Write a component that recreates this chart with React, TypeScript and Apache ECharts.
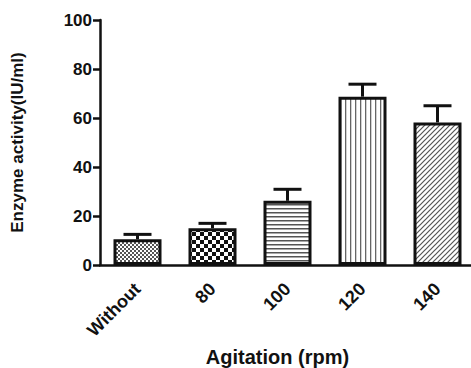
import React, { useEffect, useRef } from "react";
import * as echarts from "echarts";

const categories = ["Without", "80", "100", "120", "140"];
const activity = [10.5, 15.0, 26.2, 68.7, 58.2];
const errors = [2.0, 2.0, 4.7, 5.1, 6.8];
const yMin = 0;
const yMax = 100;
const yInterval = 20;

const FONT = "Arial, 'Liberation Sans', Helvetica, sans-serif";
const INK = "#111";

function tile(w: number, h: number, draw: (ctx: CanvasRenderingContext2D) => void) {
  const c = document.createElement("canvas");
  c.width = w;
  c.height = h;
  const ctx = c.getContext("2d")!;
  ctx.fillStyle = "#fff";
  ctx.fillRect(0, 0, w, h);
  draw(ctx);
  return { image: c.toDataURL(), repeat: "repeat", imageWidth: w, imageHeight: h };
}

function makePatterns() {
  const fine = tile(4, 4, (ctx) => {
    ctx.fillStyle = "#555";
    ctx.fillRect(0, 0, 2, 2);
    ctx.fillRect(2, 2, 2, 2);
  });
  const checker = tile(8, 8, (ctx) => {
    ctx.fillStyle = "#111";
    ctx.fillRect(0, 0, 4, 4);
    ctx.fillRect(4, 4, 4, 4);
  });
  const horiz = tile(4, 4, (ctx) => {
    ctx.fillStyle = "#555";
    ctx.fillRect(0, 0, 4, 1.5);
  });
  const vert = tile(5, 5, (ctx) => {
    ctx.fillStyle = "#666";
    ctx.fillRect(0, 0, 1.3, 5);
  });
  const diag = tile(5, 5, (ctx) => {
    ctx.strokeStyle = "#555";
    ctx.lineWidth = 1.2;
    ctx.beginPath();
    ctx.moveTo(-1, 6);
    ctx.lineTo(6, -1);
    ctx.moveTo(-3, 3);
    ctx.lineTo(3, -3);
    ctx.moveTo(2, 8);
    ctx.lineTo(8, 2);
    ctx.stroke();
  });
  return [fine, checker, horiz, vert, diag];
}

export default function App() {
  const ref = useRef<HTMLDivElement>(null);
  useEffect(() => {
    if (!ref.current) return;
    const chart = echarts.init(ref.current, null, { renderer: "svg" });
    const patterns = makePatterns();
    const option: any = {
      animation: false,
      backgroundColor: "#fff",
      grid: { left: 100, top: 20, right: -4, bottom: 103, outerBoundsMode: "none", containLabel: false },
      xAxis: {
        type: "category",
        data: categories,
        name: "Agitation (rpm)",
        nameLocation: "middle",
        nameGap: 81,
        nameTextStyle: {
          fontFamily: FONT,
          fontWeight: "bold",
          fontSize: 20,
          color: INK,
          padding: [0, 20, 0, 0],
        },
        axisLine: { lineStyle: { color: INK, width: 2.5 } },
        axisTick: { alignWithLabel: true, length: 7, lineStyle: { color: INK, width: 2.5 } },
        axisLabel: {
          rotate: 45,
          margin: 21,
          fontFamily: FONT,
          fontWeight: "bold",
          fontSize: 18,
          color: INK,
        },
      },
      yAxis: {
        type: "value",
        min: yMin,
        max: yMax,
        interval: yInterval,
        name: "Enzyme activity(IU/ml)",
        nameLocation: "middle",
        nameGap: 74,
        nameTextStyle: { fontFamily: FONT, fontWeight: "bold", fontSize: 17, color: INK },
        splitLine: { show: false },
        axisLine: { show: true, lineStyle: { color: INK, width: 2.5 } },
        axisTick: { show: true, length: 7, lineStyle: { color: INK, width: 2.5 } },
        axisLabel: { margin: 8, fontFamily: FONT, fontWeight: "bold", fontSize: 17, color: INK },
      },
      series: [
        {
          type: "bar",
          barWidth: 48,
          data: activity.map((v, i) => ({
            value: v,
            itemStyle: { color: patterns[i], borderColor: INK, borderWidth: 3 },
          })),
          z: 2,
        },
        {
          type: "custom",
          z: 5,
          data: activity.map((v, i) => [i, v, v + errors[i]]),
          renderItem: (params: any, api: any) => {
            const top = api.coord([api.value(0), api.value(1)]);
            const cap = api.coord([api.value(0), api.value(2)]);
            const hw = 14;
            return {
              type: "group",
              children: [
                {
                  type: "line",
                  shape: { x1: top[0], y1: top[1], x2: cap[0], y2: cap[1] },
                  style: { stroke: INK, lineWidth: 3 },
                },
                {
                  type: "line",
                  shape: { x1: cap[0] - hw, y1: cap[1], x2: cap[0] + hw, y2: cap[1] },
                  style: { stroke: INK, lineWidth: 3 },
                },
              ],
            };
          },
        },
      ],
    };
    chart.setOption(option);
    return () => chart.dispose();
  }, []);
  return (
    <div
      ref={ref}
      style={{ position: "fixed", left: 0, top: 0, width: 471, height: 368, background: "#fff" }}
    />
  );
}
